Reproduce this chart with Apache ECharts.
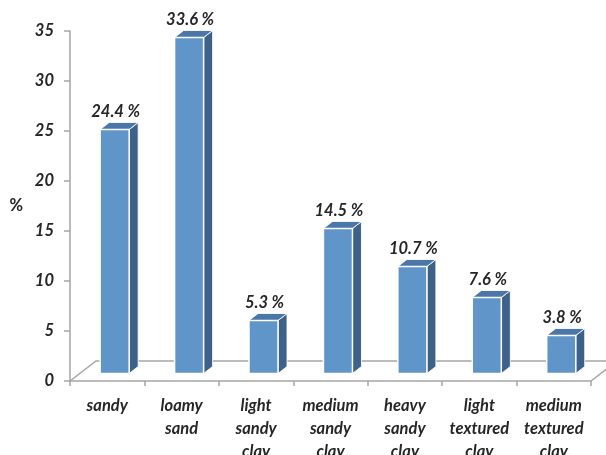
<!DOCTYPE html>
<html>
<head>
<meta charset="utf-8">
<script src="https://cdn.jsdelivr.net/npm/echarts@6/dist/echarts.min.js"></script>
<style>
  html, body { margin: 0; padding: 0; background: #ffffff; }
  #chart { width: 606px; height: 455px; }
</style>
</head>
<body>
<div id="chart"></div>
<script>
// Soil texture classes and their share of samples (%)
const categories = ['sandy', 'loamy\nsand', 'light\nsandy\nclay', 'medium\nsandy\nclay', 'heavy\nsandy\nclay', 'light\ntextured\nclay', 'medium\ntextured\nclay'];
const shares = [24.4, 33.6, 5.3, 14.5, 10.7, 7.6, 3.8];
const yMin = 0;
const yMax = 35;
const yStep = 5;

const FONT = 'Lato, "Open Sans", sans-serif';
const TEXT = '#262626';
const FRONT = '#5f95c9';
const SIDE = '#3d6189';
const TOP = '#4a77a7';
const FLOOR = '#a6a6a6';
const FS = 16.5;

// Depth of the floor plane and of each bar, in pixels
const FLOOR_DX = 26, FLOOR_DY = -20;
const BAR_DX = 9, BAR_DY = -7;
const BAR_SINK = 7.5;

function renderBar(params, api) {
  const i = api.value(0);
  const v = api.value(1);
  const base = api.coord([i, 0]);
  const top = api.coord([i, v]);
  const band = api.size([1, 0])[0];
  const w = band * 0.39;
  const cx = base[0] + band * 0.1;
  const x0 = cx - w / 2, x1 = cx + w / 2;
  const yb = base[1] - BAR_SINK, yt = top[1] - BAR_SINK;
  return {
    type: 'group',
    children: [
      { type: 'polygon', shape: { points: [[x1, yb], [x1 + BAR_DX, yb + BAR_DY], [x1 + BAR_DX, yt + BAR_DY], [x1, yt]] },
        style: { fill: SIDE, stroke: 'rgba(255,255,255,0.85)', lineWidth: 1 } },
      { type: 'polygon', shape: { points: [[x0, yt], [x1, yt], [x1 + BAR_DX, yt + BAR_DY], [x0 + BAR_DX, yt + BAR_DY]] },
        style: { fill: TOP, stroke: 'rgba(255,255,255,0.85)', lineWidth: 1 } },
      { type: 'rect', shape: { x: x0, y: yt, width: w, height: yb - yt },
        style: { fill: FRONT, stroke: '#ffffff', lineWidth: 1.5 } },
      { type: 'text', style: { text: v + ' %', x: cx + 1, y: yt - 18, align: 'center', verticalAlign: 'middle',
        font: 'italic bold ' + FS + 'px ' + FONT, fill: TEXT } }
    ]
  };
}

function renderFloor(params, api) {
  const cs = params.coordSys;
  const xl = cs.x, xr = cs.x + cs.width, yb = cs.y + cs.height;
  const lineStyle = { stroke: FLOOR, lineWidth: 1.5, fill: null };
  return {
    type: 'group',
    children: [
      { type: 'polyline', shape: { points: [[xl, yb], [xl + FLOOR_DX, yb + FLOOR_DY], [xr + FLOOR_DX, yb + FLOOR_DY]] }, style: lineStyle },
      { type: 'polyline', shape: { points: [[xr, yb], [xr + FLOOR_DX, yb + FLOOR_DY]] }, style: lineStyle }
    ]
  };
}

const chart = echarts.init(document.getElementById('chart'), null, { renderer: 'canvas' });
chart.setOption({
  animation: false,
  backgroundColor: '#ffffff',
  grid: { left: 70, right: 15, top: 31, bottom: 74, containLabel: false, outerBoundsMode: 'none' },
  xAxis: {
    type: 'category',
    data: categories,
    boundaryGap: true,
    axisLine: { show: true, lineStyle: { color: FLOOR, width: 1.5 } },
    axisTick: { show: true, length: 5, lineStyle: { color: FLOOR, width: 1.5 } },
    axisLabel: { interval: 0, margin: 13, color: TEXT, fontFamily: FONT, fontSize: FS, fontWeight: 'bold',
      fontStyle: 'italic', lineHeight: 23 },
    splitLine: { show: false }
  },
  yAxis: {
    type: 'value',
    min: yMin, max: yMax, interval: yStep,
    name: '%',
    nameLocation: 'middle',
    nameGap: 47,
    nameRotate: 0,
    nameTextStyle: { color: TEXT, fontFamily: FONT, fontSize: FS, fontWeight: 'bold' },
    axisLine: { show: true, lineStyle: { color: FLOOR, width: 1.5 } },
    axisTick: { show: true, length: 6, lineStyle: { color: FLOOR, width: 1.5 } },
    axisLabel: { margin: 16, color: TEXT, fontFamily: FONT, fontSize: FS, fontWeight: 'bold', fontStyle: 'italic' },
    splitLine: { show: false }
  },
  series: [
    {
      type: 'custom',
      name: 'floor',
      renderItem: renderFloor,
      data: [[0, 0]],
      clip: false,
      silent: true,
      z: 1
    },
    {
      type: 'custom',
      name: 'share',
      renderItem: renderBar,
      data: shares.map((v, i) => [i, v]),
      clip: false,
      z: 5
    }
  ]
});
</script>
</body>
</html>
